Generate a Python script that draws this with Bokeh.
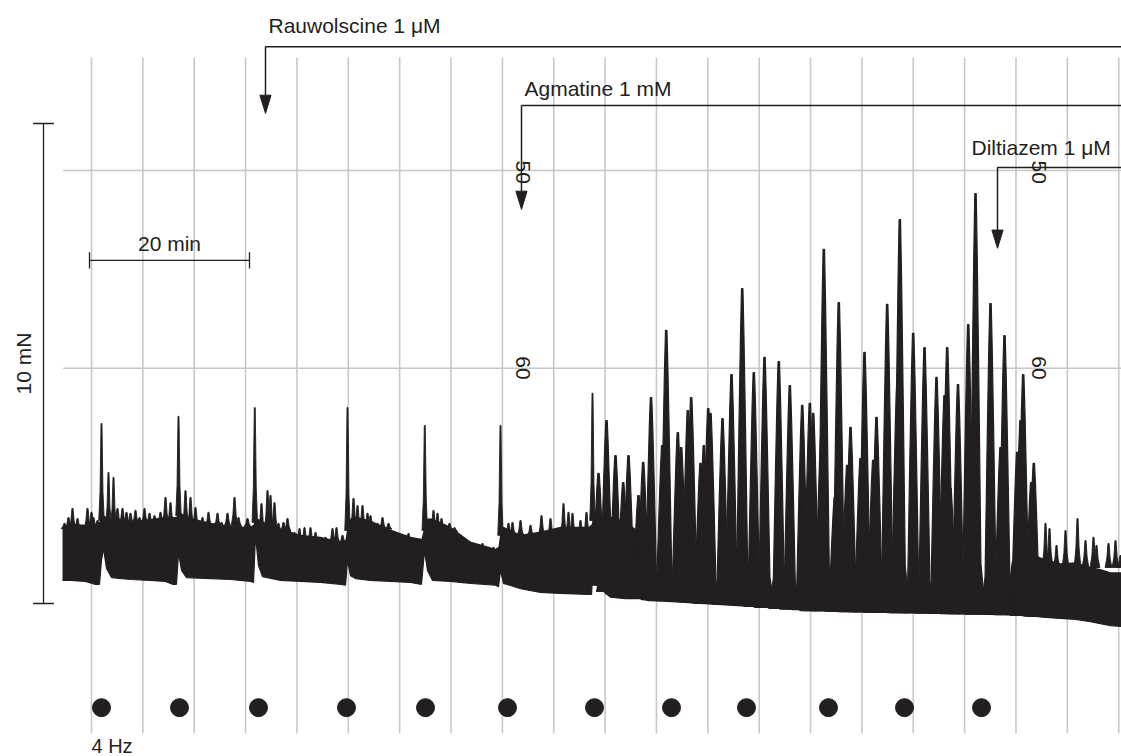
import numpy as np
from bokeh.plotting import figure
from bokeh.models import Range1d
from bokeh.embed import file_html
from bokeh.resources import INLINE
from bokeh.core.properties import value

INK = "#231f20"
GRID = "#c8c8c8"
FONT = "Liberation Sans"

# ---------------- data: time in min, force in mN ----------------
# dense tonic band of the trace: lower edge and upper edge
band_t = [-3.375, -2.375, -0.5, 0.75, 1.25, 1.5, 1.75, 2.125, 2.75, 5.125,
          7.625, 9.5, 10.375, 10.875, 11.125, 11.5, 12.125, 15.125, 17.625, 20.125,
          20.5, 20.75, 21.125, 21.625, 23.875, 26.375, 28.875, 31.375, 32.0, 32.25,
          32.625, 33.25, 35.125, 37.625, 40.125, 41.5, 41.875, 42.25, 42.875, 45.125,
          47.625, 50.75, 51.125, 51.375, 51.75, 53.875, 56.375, 58.875, 62.375, 62.75,
          63.0, 63.375, 65.125, 67.0, 68.875, 69.875, 70.75, 76.375, 82.625, 88.875,
          95.125, 101.375, 107.625, 113.875, 114.875, 115.25, 116.375, 117.375, 118.25, 119.5,
          121.375, 123.25, 125.125, 126.375, 127.625, 129.0]
band_lo = [0.48, 0.48, 0.46, 0.40, 0.40, 0.90, 1.15, 0.73, 0.54, 0.50,
           0.48, 0.46, 0.40, 0.40, 1.06, 0.69, 0.54, 0.52, 0.50, 0.46,
           0.44, 1.42, 0.79, 0.56, 0.48, 0.46, 0.44, 0.40, 0.38, 0.90,
           0.58, 0.52, 0.48, 0.46, 0.44, 0.40, 1.10, 0.69, 0.48, 0.46,
           0.42, 0.38, 0.35, 0.69, 0.42, 0.31, 0.23, 0.21, 0.19, 0.19,
           0.90, 0.38, 0.13, 0.10, 0.10, 0.06, 0.06, 0.00, -0.06, -0.13,
           -0.17, -0.19, -0.21, -0.23, -0.23, -0.23, -0.25, -0.27, -0.27, -0.29,
           -0.31, -0.33, -0.38, -0.42, -0.46, -0.48]
band_hi = [1.60, 1.66, 1.64, 1.66, 1.70, 1.80, 1.84, 1.80, 1.72, 1.72,
           1.76, 1.80, 1.80, 1.80, 1.90, 1.88, 1.80, 1.68, 1.60, 1.60,
           1.64, 1.76, 1.76, 1.71, 1.56, 1.43, 1.39, 1.29, 1.33, 1.60,
           1.77, 1.81, 1.73, 1.54, 1.39, 1.35, 1.60, 1.77, 1.77, 1.60,
           1.29, 1.14, 1.18, 1.50, 1.60, 1.43, 1.50, 1.60, 1.60, 1.64,
           1.81, 1.85, 1.81, 1.71, 1.48, 0.95, 0.45, 0.35, 0.30, 0.25,
           0.20, 0.17, 0.15, 0.13, 0.30, 0.85, 1.20, 1.12, 1.00, 0.92,
           0.84, 0.86, 0.76, 0.72, 0.65, 0.65]

# twitch responses to field stimulation (narrow spikes)
twitch_t = [1.5, 2.375, 3.0, 11.125, 20.66, 32.25, 41.91, 51.375, 62.875]
twitch_base = [1.73, 1.69, 1.69, 1.83, 1.69, 1.52, 1.52, 1.42, 1.73]
twitch_peak = [3.75, 2.73, 2.63, 3.90, 4.08, 4.08, 3.71, 3.71, 4.38]

# small spontaneous ripples on top of the tonic band
ripple_t = [-3.125, -2.625, -2.125, -1.5, -0.25, 0.25, 0.5, 1.0,
            3.5, 4.125, 4.625, 5.125, 5.75, 6.25, 6.875, 7.5, 8.125, 8.875, 9.5, 10.125,
            12.0, 12.625, 13.25, 14.125, 14.875, 15.625, 16.0, 16.5, 17.25, 18.125, 18.625, 19.75,
            21.5, 22.25, 22.625, 23.125, 23.625, 24.25, 24.75,
            25.625, 26.25, 26.875, 27.625, 28.25, 29.5, 30.375, 30.875, 31.625,
            33.0, 33.5, 34.125, 34.75, 35.125, 36.0, 36.625, 37.375,
            38.0, 39.5, 39.875, 41.0,
            43.0, 43.5, 44.0, 45.0, 45.625,
            46.625, 47.625, 49.125, 49.875, 50.5,
            52.375, 52.875, 53.875, 55.125, 56.5, 57.625, 59.25, 59.875, 60.375, 61.375, 62.125,
            119.5, 120.0, 120.875, 122.0, 123.5, 124.5, 125.5, 125.875, 127.375, 128.25, 128.875]
ripple_base = [1.56] * 8 + [1.65] * 12 + [1.60] * 12 + [1.50] * 7 + [1.25] * 9 \
    + [1.55] * 8 + [1.25] * 4 + [1.50] * 5 + [1.05] * 5 + [1.40] * 11 + [0.75] * 11
ripple_peak = [1.67, 1.79, 1.98, 1.77, 1.98, 1.90, 1.79, 1.73,
               1.98, 1.98, 1.90, 1.88, 1.94, 1.79, 1.98, 1.88, 1.83, 1.90, 2.21, 2.10,
               2.35, 2.21, 2.00, 1.79, 1.90, 1.67, 1.88, 1.69, 1.88, 2.21, 1.79, 1.77,
               2.08, 2.35, 2.25, 2.10, 1.67, 1.69, 1.77,
               1.48, 1.56, 1.58, 1.58, 1.48, 1.38, 1.56, 1.58, 1.42,
               2.19, 2.04, 2.04, 1.88, 1.83, 1.67, 1.79, 1.67,
               1.48, 1.42, 1.46, 1.31,
               1.94, 1.88, 1.77, 1.67, 1.58,
               1.31, 1.27, 1.25, 1.17, 1.17,
               1.67, 1.69, 1.73, 1.63, 1.83, 1.77, 2.08, 1.90, 1.88, 1.73, 1.90,
               1.67, 1.56, 1.21, 1.52, 1.77, 1.31, 1.38, 1.21, 1.25, 1.31, 1.00]

# phasic contractions after agmatine (wide teeth)
contr_t = [63.625, 64.625, 65.75, 66.71, 67.375, 68.625, 69.21, 70.19, 71.59, 72.09,
           73.54, 73.96, 74.79, 75.21, 76.375, 76.79, 77.34, 77.625, 79.125, 80.25,
           81.59, 83.04, 84.375, 86.16, 87.54, 89.09, 90.04, 90.46, 91.46, 91.79,
           93.16, 93.66, 94.71, 95.125, 96.375, 96.875, 97.96, 98.375, 99.71, 100.96,
           101.29, 102.96, 104.375, 105.875, 106.875, 107.21, 107.625, 108.56, 109.84, 110.75,
           112.625, 113.875, 114.375, 115.96, 116.375, 116.71, 117.71, 118.04]
contr_base = [0.38, 0.25, 0.20, 0.20, 0.15, 0.12, 0.12, 0.08, 0.06, 0.06,
              0.06, 0.06, 0.04, 0.04, 0.02, 0.00, 0.00, 0.00, -0.02, -0.02,
              -0.04, -0.06, -0.08, -0.10, -0.12, -0.13, -0.15, -0.15, -0.15, -0.15,
              -0.16, -0.16, -0.17, -0.17, -0.17, -0.17, -0.18, -0.18, -0.18, -0.19,
              -0.19, -0.19, -0.20, -0.20, -0.20, -0.20, -0.21, -0.21, -0.21, -0.22,
              -0.22, -0.22, -0.23, -0.23, -0.25, -0.25, -0.25, -0.26]
contr_peak = [2.71, 3.81, 3.08, 2.52, 3.08, 2.25, 2.94, 4.29, 3.29, 5.69,
              3.56, 3.25, 4.02, 4.29, 2.92, 3.29, 4.06, 3.96, 3.85, 4.77,
              6.56, 4.81, 5.13, 5.04, 4.54, 4.13, 4.17, 3.96, 3.44, 7.38,
              2.21, 6.27, 2.88, 3.67, 3.02, 5.23, 2.98, 3.88, 6.23, 4.50,
              8.00, 5.63, 5.33, 4.71, 4.33, 5.33, 2.40, 4.56, 5.81, 8.54,
              6.25, 3.25, 5.58, 3.15, 3.81, 4.77, 2.52, 2.92]

# electrical field stimulation (4 Hz) marks
stim_t = [1.5, 11.25, 21.125, 32.125, 42.0, 52.25, 63.125, 72.75, 82.125, 92.375, 101.875, 111.5]
stim_label = "4 Hz"

# drug additions
treat_name = ["Rauwolscine 1 \u03bcM", "Agmatine 1 mM", "Diltiazem 1 \u03bcM"]
treat_t = [22.0, 54.0, 113.5]
treat_bar_f = [11.60, 10.375, 9.083]
treat_tip_f = [10.21, 8.21, 7.40]
treat_label_t = [22.375, 54.375, 110.25]
treat_label_f = [12.04, 10.73, 9.50]

# chart-paper grid and its printed numbers
paper_grid_t = [0.25, 6.67, 13.09, 19.51, 25.93, 32.35, 38.77, 45.19, 51.61, 58.03, 64.45,
                70.87, 77.29, 83.71, 90.13, 96.55, 102.97, 109.39, 115.81, 122.23, 128.65]
paper_grid_f = [9.02, 4.90]
paper_label = ["50", "60", "50", "60"]
paper_label_t = [54.125, 54.125, 118.625, 118.625]
paper_label_f = [9.23, 5.15, 9.23, 5.15]

# calibration bars
time_bar_min = 20
force_bar_mN = 10

# ---------------- figure ----------------
W, H = 1121, 756
PX_MIN, PX_MN = 8.0, 48.0
x0 = -89 / PX_MIN
y0 = -153 / PX_MN
p = figure(width=W, height=H, x_range=Range1d(x0, x0 + W / PX_MIN),
           y_range=Range1d(y0, y0 + H / PX_MN), output_backend="svg",
           toolbar_location=None, x_axis_location=None, y_axis_location=None,
           min_border=0, outline_line_color=None, background_fill_color="white",
           border_fill_color="white")
p.xgrid.visible = False
p.ygrid.visible = False

grid_bottom, grid_top = -2.71, 11.375
p.segment(x0=paper_grid_t, y0=[grid_bottom] * len(paper_grid_t),
          x1=paper_grid_t, y1=[grid_top] * len(paper_grid_t),
          line_color=GRID, line_width=1.6)
p.segment(x0=[-3.3] * 2, y0=paper_grid_f, x1=[129.5] * 2, y1=paper_grid_f,
          line_color=GRID, line_width=1.6)

# trace
p.varea(x=band_t, y1=band_lo, y2=band_hi, fill_color=INK)
p.line(band_t, band_lo, line_color=INK, line_width=1.2)


def spike_shapes(ts, bases, peaks, fracs, hws):
    xs, ys = [], []
    for t, b, pk in zip(ts, bases, peaks):
        lv = [b + f * (pk - b) for f in fracs]
        xs.append([t - h for h in hws] + [t + h for h in reversed(hws)])
        ys.append(lv + list(reversed(lv)))
    return xs, ys


for (ts, bs, pks, fr, hw, lw) in [
        (contr_t, contr_base, contr_peak, [0, 0.12, 0.55, 0.85, 1.0],
         [1.25, 0.68, 0.42, 0.22, 0.09], 1.2),
        (twitch_t, twitch_base, twitch_peak, [0, 0.3, 1.0], [0.34, 0.18, 0.06], 0.9),
        (ripple_t, ripple_base, ripple_peak, [0, 0.4, 1.0], [0.42, 0.2, 0.07], 0.9)]:
    xs, ys = spike_shapes(ts, bs, pks, fr, hw)
    p.patches(xs, ys, fill_color=INK, line_color=INK, line_width=lw)

# stimulation dots
p.scatter(stim_t, [-2.17] * len(stim_t), size=18, color=INK)
p.text(x=[0.25], y=[-2.96], text=[stim_label], text_font=value(FONT),
       text_font_size=value("20px"), text_color=INK, text_align="left",
       text_baseline="middle")

# drug additions
t_end = 129.5
head_len, head_hw = 0.38, 0.70
p.multi_line(xs=[[t_end, t, t] for t in treat_t],
             ys=[[b, b, tip + head_len] for b, tip in zip(treat_bar_f, treat_tip_f)],
             line_color=INK, line_width=1.5)
p.patches(xs=[[t - head_hw, t + head_hw, t] for t in treat_t],
          ys=[[tip + head_len, tip + head_len, tip] for tip in treat_tip_f],
          fill_color=INK, line_color=INK, line_width=1)
p.text(x=treat_label_t, y=treat_label_f, text=treat_name, text_font=value(FONT),
       text_font_size=value("21px"), text_color=INK, text_align="left",
       text_baseline="middle")

# chart paper numbers (printed sideways)
p.text(x=paper_label_t, y=paper_label_f, text=paper_label, angle=-np.pi / 2,
       text_font=value(FONT), text_font_size=value("21px"), text_color=INK,
       text_align="left", text_baseline="middle")

# time calibration bar
tb_f, tick = 7.15, 0.17
p.multi_line(xs=[[0, time_bar_min], [0, 0], [time_bar_min, time_bar_min]],
             ys=[[tb_f, tb_f], [tb_f - tick, tb_f + tick], [tb_f - tick, tb_f + tick]],
             line_color=INK, line_width=1.3)
p.text(x=[time_bar_min / 2], y=[7.50], text=[f"{time_bar_min} min"], text_font=value(FONT),
       text_font_size=value("21px"), text_color=INK, text_align="center",
       text_baseline="middle")

# force calibration bar
fb_t, ftick = -5.75, 1.3
p.multi_line(xs=[[fb_t, fb_t], [fb_t - ftick, fb_t + ftick], [fb_t - ftick, fb_t + ftick]],
             ys=[[0, force_bar_mN], [0, 0], [force_bar_mN, force_bar_mN]],
             line_color=INK, line_width=1.3)
p.text(x=[-8.25], y=[force_bar_mN / 2], text=[f"{force_bar_mN} mN"], angle=np.pi / 2,
       text_font=value(FONT), text_font_size=value("21px"), text_color=INK,
       text_align="center", text_baseline="middle")

open("out.html", "w").write(file_html(p, INLINE))
